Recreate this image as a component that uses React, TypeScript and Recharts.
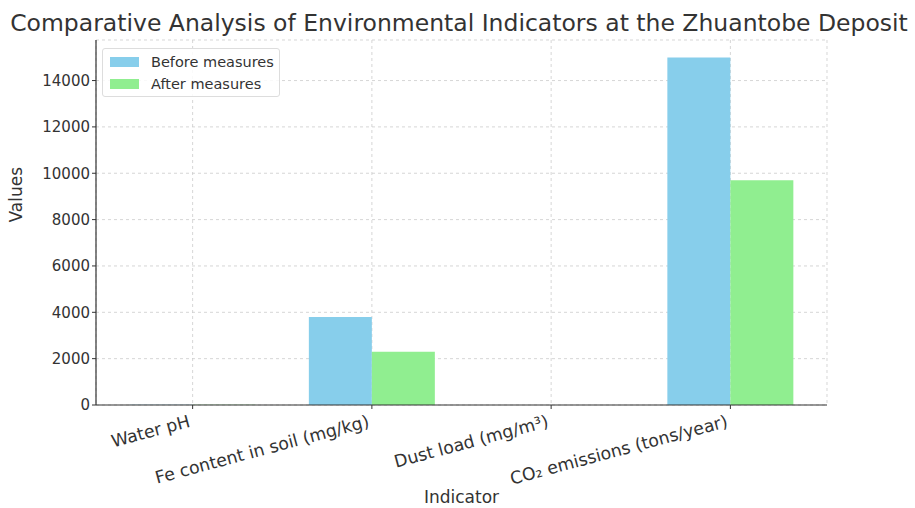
import React from 'react';
import { BarChart, Bar, XAxis, YAxis, CartesianGrid, Label } from 'recharts';

const categories = ['Water pH', 'Fe content in soil (mg/kg)', 'Dust load (mg/m³)', 'CO₂ emissions (tons/year)'];
const beforeValues = [6.5, 3800, 0.8, 15000];
const afterValues = [7.0, 2300, 0.3, 9700];
const yTicks = [0, 2000, 4000, 6000, 8000, 10000, 12000, 14000];
const seriesNames = ['Before measures', 'After measures'];
const seriesColors = ['#87CEEB', '#90EE90'];

const data = categories.map((c, i) => ({ name: c, before: beforeValues[i], after: afterValues[i] }));

const FONT = '"DejaVu Sans", sans-serif';

const XTick = (props: any) => {
  const { x, y, payload } = props;
  return (
    <g transform={`translate(${x - 5},${y + 3})`}>
      <text
        x={0}
        y={0}
        dy={13}
        textAnchor="end"
        transform="rotate(-15)"
        fill="#333"
        fontSize={17.3}
        fontFamily={FONT}
      >
        {payload.value}
      </text>
    </g>
  );
};

const LegendBox = () => (
  <div
    style={{
      position: 'absolute',
      left: 102,
      top: 48,
      width: 178,
      height: 49,
      boxSizing: 'border-box',
      border: '1px solid #ddd',
      borderRadius: 3,
      background: 'rgba(255,255,255,0.85)',
      padding: '2px 0 0 7px',
      fontFamily: FONT,
      fontSize: 14.5,
      color: '#333',
    }}
  >
    {seriesNames.map((n, i) => (
      <div key={n} style={{ display: 'flex', alignItems: 'center', height: 22 }}>
        <span style={{ display: 'inline-block', width: 29, height: 10, background: seriesColors[i], marginRight: 12 }} />
        <span>{n}</span>
      </div>
    ))}
  </div>
);

export default function App() {
  return (
    <div style={{ position: 'absolute', left: 0, top: 0, width: 915, height: 508, background: '#fff' }}>
      <BarChart
        width={915}
        height={508}
        data={data}
        margin={{ top: 40, right: 88, bottom: 0, left: 0 }}
        barGap={0}
        barCategoryGap={26.6}
      >
        <CartesianGrid stroke="#ccc" strokeDasharray="3 3" strokeOpacity={0.8} />
        <XAxis
          dataKey="name"
          tick={<XTick />}
          tickLine={{ stroke: '#333' }}
          tickSize={4}
          axisLine={{ stroke: '#333', strokeWidth: 1.2 }}
          interval={0}
          padding={{ left: 7, right: 7 }}
          height={103}
        >
          <Label value="Indicator" position="insideBottom" offset={5} fill="#333" fontSize={17} fontFamily={FONT} />
        </XAxis>
        <YAxis
          domain={[0, 15750]}
          ticks={yTicks}
          width={96}
          tickSize={4}
          tickLine={{ stroke: '#333' }}
          axisLine={{ stroke: '#333', strokeWidth: 1.2 }}
          tick={{ fill: '#333', fontSize: 15, fontFamily: FONT }}
          allowDataOverflow
        >
          <Label value="Values" angle={-90} position="insideLeft" offset={16} fill="#333" fontSize={17} fontFamily={FONT} />
        </YAxis>
        <Bar dataKey="before" name={seriesNames[0]} fill={seriesColors[0]} isAnimationActive={false} />
        <Bar dataKey="after" name={seriesNames[1]} fill={seriesColors[1]} isAnimationActive={false} />
      </BarChart>
      <div
        style={{
          position: 'absolute',
          left: 0,
          top: 9,
          width: 918,
          textAlign: 'center',
          fontFamily: FONT,
          fontSize: 23.5,
          color: '#333',
          whiteSpace: 'nowrap',
        }}
      >
        Comparative Analysis of Environmental Indicators at the Zhuantobe Deposit
      </div>
      <LegendBox />
    </div>
  );
}
